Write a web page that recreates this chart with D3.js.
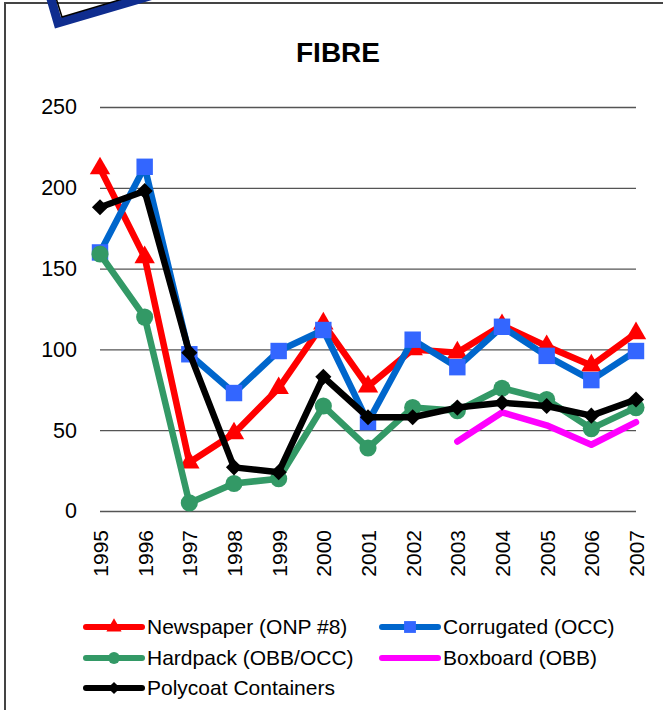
<!DOCTYPE html>
<html>
<head>
<meta charset="utf-8">
<script src="https://cdn.jsdelivr.net/npm/d3@7"></script>
<style>
  html, body { margin: 0; padding: 0; background: #fff; }
  svg { display: block; }
  text { font-family: Arial, "Liberation Sans", sans-serif; }
</style>
</head>
<body>
<svg id="chart" width="663" height="710"></svg>
<script>
const years = ["1995","1996","1997","1998","1999","2000","2001","2002","2003","2004","2005","2006","2007"];
const yTicks = [0, 50, 100, 150, 200, 250];

const newspaper  = [212, 157, 30, 48, 76, 116, 77, 100, 98, 115, 102, 90, 110];
const corrugated = [160, 213, 97, 73, 99, 112, 55, 106, 89, 114, 96, 81, 99];
const hardpack   = [159, 120, 5, 17, 20, 65, 39, 64, 62, 76, 69, 51, 64];
const boxboard   = [null, null, null, null, null, null, null, null, 43, 61, 53, 41, 55];
const polycoat   = [188, 198, 98, 27, 24, 83, 58, 58, 64, 67, 65, 59, 69];

const seriesNames = ["Newspaper (ONP #8)", "Corrugated (OCC)", "Hardpack (OBB/OCC)", "Boxboard (OBB)", "Polycoat Containers"];
const seriesData = [newspaper, corrugated, hardpack, boxboard, polycoat];
const lineColors = ["#FF0000", "#0066CC", "#339966", "#FF00FF", "#000000"];
const markerColors = ["#FF0000", "#3366FF", "#339966", null, "#000000"];
const markerTypes = ["triangle", "square", "circle", null, "diamond"];

const svg = d3.select("#chart");

// frame
svg.append("path")
  .attr("d", "M5,710 L5,3 L663,3")
  .attr("fill", "none").attr("stroke", "#444").attr("stroke-width", 2);

// decoration at top-left
svg.append("path")
  .attr("d", "M49,-8 L58,23 L170,-10")
  .attr("fill", "none").attr("stroke", "#0f2d8f").attr("stroke-width", 9)
  .attr("stroke-linejoin", "miter");
svg.append("path")
  .attr("d", "M56,-2 L62,17 L126,-2")
  .attr("fill", "none").attr("stroke", "#000").attr("stroke-width", 1.5);

// title
svg.append("text")
  .attr("x", 338).attr("y", 62)
  .attr("text-anchor", "middle")
  .attr("font-size", 28).attr("font-weight", "bold")
  .text("FIBRE");

const x = d3.scalePoint().domain(years).range([100, 636]);
const y = d3.scaleLinear().domain([0, 250]).range([511, 107]);

// y gridlines and labels
const yAxis = svg.append("g")
  .attr("transform", "translate(100,0)")
  .call(d3.axisLeft(y).tickValues(yTicks).tickSize(-536).tickPadding(23).tickFormat(d3.format("d")));
yAxis.select(".domain").remove();
yAxis.selectAll(".tick line").attr("stroke", "#555").attr("stroke-width", 1.3);
yAxis.selectAll(".tick text")
  .attr("font-size", 21.5).attr("fill", "#000")
  .style("font-family", "Arial, 'Liberation Sans', sans-serif");

// x axis labels
const xAxis = svg.append("g")
  .attr("transform", "translate(0,511)")
  .call(d3.axisBottom(x).tickSize(0).tickPadding(0));
xAxis.select(".domain").remove();
xAxis.selectAll(".tick text")
  .attr("font-size", 21).attr("fill", "#000")
  .style("font-family", "Arial, 'Liberation Sans', sans-serif")
  .attr("text-anchor", "end")
  .attr("dy", "0.35em")
  .attr("transform", "translate(0,19) rotate(-90)")
  .attr("x", 0).attr("y", 0);

function markerPath(type, s) {
  if (type === "triangle") return d3.symbol(d3.symbolTriangle, s)();
  if (type === "square") return d3.symbol(d3.symbolSquare, s)();
  if (type === "circle") return d3.symbol(d3.symbolCircle, s)();
  if (type === "diamond") return d3.symbol(d3.symbolSquare, s)();
  return null;
}
const markerSize = { triangle: 180, square: 270, circle: 230, diamond: 130 };

const line = d3.line()
  .defined(d => d != null)
  .x((d, i) => x(years[i]))
  .y(d => y(d));

seriesData.forEach((data, si) => {
  const g = svg.append("g");
  g.append("path")
    .attr("d", line(data))
    .attr("fill", "none")
    .attr("stroke", lineColors[si])
    .attr("stroke-width", 6.5)
    .attr("stroke-linejoin", "round")
    .attr("stroke-linecap", "round");
  const mt = markerTypes[si];
  if (mt) {
    g.selectAll("path.m")
      .data(data.map((v, i) => ({ v, i })).filter(d => d.v != null))
      .join("path")
      .attr("class", "m")
      .attr("d", markerPath(mt, markerSize[mt]))
      .attr("transform", d => `translate(${x(years[d.i])},${y(d.v)})` + (mt === "diamond" ? " rotate(45)" : ""))
      .attr("fill", markerColors[si]);
  }
});

// legend
const legendPos = [
  { x: 86, y: 627 }, { x: 382, y: 627 },
  { x: 86, y: 658 }, { x: 382, y: 658 },
  { x: 86, y: 688 }
];
const legendMarkerSize = { triangle: 100, square: 140, circle: 110, diamond: 75 };
seriesNames.forEach((name, si) => {
  const p = legendPos[si];
  const g = svg.append("g").attr("transform", `translate(${p.x},${p.y})`);
  g.append("line")
    .attr("x1", 0).attr("x2", 56).attr("y1", 0).attr("y2", 0)
    .attr("stroke", lineColors[si]).attr("stroke-width", 6)
    .attr("stroke-linecap", "round");
  const mt = markerTypes[si];
  if (mt) {
    g.append("path")
      .attr("d", markerPath(mt, legendMarkerSize[mt]))
      .attr("transform", `translate(28,0)` + (mt === "diamond" ? " rotate(45)" : ""))
      .attr("fill", markerColors[si]);
  }
  g.append("text")
    .attr("x", 61).attr("y", 0).attr("dy", "0.35em")
    .attr("font-size", 21)
    .text(name);
});
</script>
</body>
</html>
